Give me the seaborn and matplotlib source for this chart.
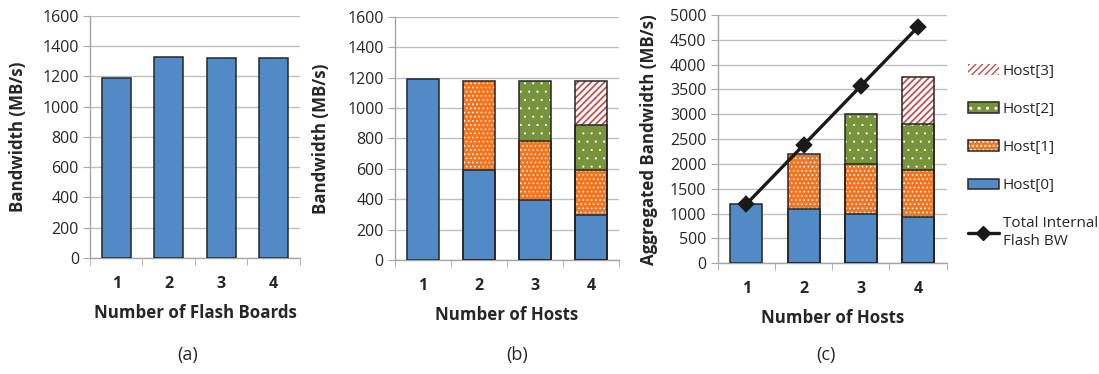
import matplotlib
matplotlib.use('Agg')
import numpy as np
import pandas as pd
import matplotlib.pyplot as plt
import seaborn as sns
from matplotlib.patches import Patch
from matplotlib.lines import Line2D
from matplotlib.legend_handler import HandlerTuple

# (a) one host, more flash boards
boards = [1, 2, 3, 4]
board_bw = [1187, 1325, 1318, 1318]

# (b) hosts sharing one flash board, per-host bandwidth
hosts = [1, 2, 3, 4]
b_host0 = [1190, 590, 393, 295]
b_host1 = [np.nan, 590, 393, 295]
b_host2 = [np.nan, np.nan, 394, 295]
b_host3 = [np.nan, np.nan, np.nan, 295]

# (c) hosts with own boards, aggregated bandwidth
c_host0 = [1190, 1100, 1000, 940]
c_host1 = [np.nan, 1100, 1000, 940]
c_host2 = [np.nan, np.nan, 1000, 930]
c_host3 = [np.nan, np.nan, np.nan, 940]
c_total_flash = [1190, 2380, 3570, 4760]

host_names = ['Host[0]', 'Host[1]', 'Host[2]', 'Host[3]']

BLUE = '#5289C7'
ORANGE = '#F27522'
GREEN = '#77933C'
RED = '#C0504D'
EDGE = '#262626'
GRAY = '#A6A6A6'

# face, hatch, hatch colour, hatch linewidth
styles = {
    'Host[0]': (BLUE, None, 'white', 1.0),
    'Host[1]': (ORANGE, '....', 'white', 0.6),
    'Host[2]': (GREEN, '..', 'white', 0.3),
    'Host[3]': ('white', '/////', RED, 1.3),
}

sns.set_style('white')
plt.rcParams['font.family'] = ['Open Sans', 'DejaVu Sans']
plt.rcParams['hatch.linewidth'] = 1.0

BAR_W = 0.56
TICK_FS = 11.5
LABEL_FS = 12.2


def set_hlw(patches, hlw):
    for p in patches:
        if hasattr(p, 'set_hatch_linewidth'):
            p.set_hatch_linewidth(hlw)


def draw_layer(ax, cats, values, order, face, hatch, hcol, hlw=1.0):
    s = pd.Series(values, index=cats).dropna()
    n_before = len(ax.patches)
    sns.barplot(x=s.index, y=s.values, order=order, color=face, saturation=1,
                width=BAR_W, errorbar=None, edgecolor=hcol, linewidth=0,
                hatch=hatch, ax=ax, zorder=2)
    set_hlw(ax.patches[n_before:], hlw)
    sns.barplot(x=s.index, y=s.values, order=order, color=EDGE, saturation=1,
                fill=False, width=BAR_W, errorbar=None, linewidth=1.1,
                ax=ax, zorder=3)


def stacked(ax, layers):
    df = pd.DataFrame(dict(zip(host_names, layers)), index=hosts)
    cum = df.cumsum(axis=1)
    for name in reversed(host_names):
        face, hatch, hcol, hlw = styles[name]
        draw_layer(ax, hosts, cum[name].values, hosts, face, hatch, hcol, hlw)


def style_axis(ax, ymax, step, ylab, xlab, ylab_x, xlab_y):
    ax.set_xlim(-0.5, 3.5)
    ax.set_ylim(0, ymax)
    ax.set_yticks(np.arange(0, ymax + 1, step))
    ax.set_xticks(np.arange(-0.5, 4, 1), minor=True)
    ax.yaxis.grid(True, color='#BFBFBF', linewidth=1)
    ax.set_axisbelow(True)
    for side in ['top', 'right']:
        ax.spines[side].set_visible(False)
    for side in ['left', 'bottom']:
        ax.spines[side].set_color(GRAY)
        ax.spines[side].set_linewidth(1)
    ax.tick_params(axis='y', left=True, length=5, color=GRAY, labelsize=TICK_FS,
                   pad=3, labelcolor='#262626')
    ax.tick_params(axis='x', which='major', length=0, pad=13, labelsize=TICK_FS)
    ax.tick_params(axis='x', which='minor', bottom=True, length=5, color=GRAY)
    for t in ax.get_xticklabels():
        t.set_fontweight('bold')
    ax.set_ylabel(ylab, fontsize=LABEL_FS, fontweight='bold', color='#262626')
    ax.set_xlabel(xlab, fontsize=LABEL_FS, fontweight='bold', color='#262626')
    ax.yaxis.set_label_coords(ylab_x, 0.5)
    ax.xaxis.set_label_coords(0.5, xlab_y)


fig = plt.figure(figsize=(10.99, 3.74), dpi=100)
ax_a = fig.add_axes([0.0819, 0.310, 0.191, 0.648])
ax_b = fig.add_axes([0.3594, 0.305, 0.2038, 0.650])
ax_c = fig.add_axes([0.653, 0.296, 0.2084, 0.664])

# (a)
draw_layer(ax_a, boards, board_bw, boards, BLUE, None, 'white')
style_axis(ax_a, 1600, 200, 'Bandwidth (MB/s)', 'Number of Flash Boards', -0.30, -0.19)

# (b)
stacked(ax_b, [b_host0, b_host1, b_host2, b_host3])
style_axis(ax_b, 1600, 200, 'Bandwidth (MB/s)', 'Number of Hosts', -0.29, -0.19)

# (c)
stacked(ax_c, [c_host0, c_host1, c_host2, c_host3])
sns.pointplot(x=hosts, y=c_total_flash, order=hosts, color='#1a1a1a',
              marker='D', markersize=7, linewidth=2.4, errorbar=None,
              ax=ax_c, zorder=5)
style_axis(ax_c, 5000, 500, 'Aggregated Bandwidth (MB/s)', 'Number of Hosts', -0.26, -0.184)

# legend for (c)
handles = []
for name in reversed(host_names):
    face, hatch, hcol, hlw = styles[name]
    fillp = Patch(facecolor=face, edgecolor=hcol, hatch=hatch, linewidth=0)
    set_hlw([fillp], hlw)
    if name == 'Host[3]':
        handles.append(fillp)
    else:
        handles.append((fillp, Patch(facecolor='none', edgecolor=EDGE, linewidth=1.1)))
handles.append(Line2D([], [], color='#1a1a1a', marker='D', markersize=7, linewidth=2.4))
labels = list(reversed(host_names)) + ['Total Internal\nFlash BW']
fig.legend(handles, labels, loc='upper left', bbox_to_anchor=(0.881, 0.83),
           frameon=False, fontsize=11, handlelength=2.0, handleheight=0.7,
           handletextpad=0.25, labelspacing=1.52, borderpad=0, borderaxespad=0,
           handler_map={tuple: HandlerTuple(ndivide=1)}, labelcolor='#262626')

for x, cap in [(0.171, '(a)'), (0.4705, '(b)'), (0.7516, '(c)')]:
    fig.text(x, 0.05, cap, ha='center', va='center', fontsize=13, color='#262626')

fig.savefig('out.png', dpi=100)
